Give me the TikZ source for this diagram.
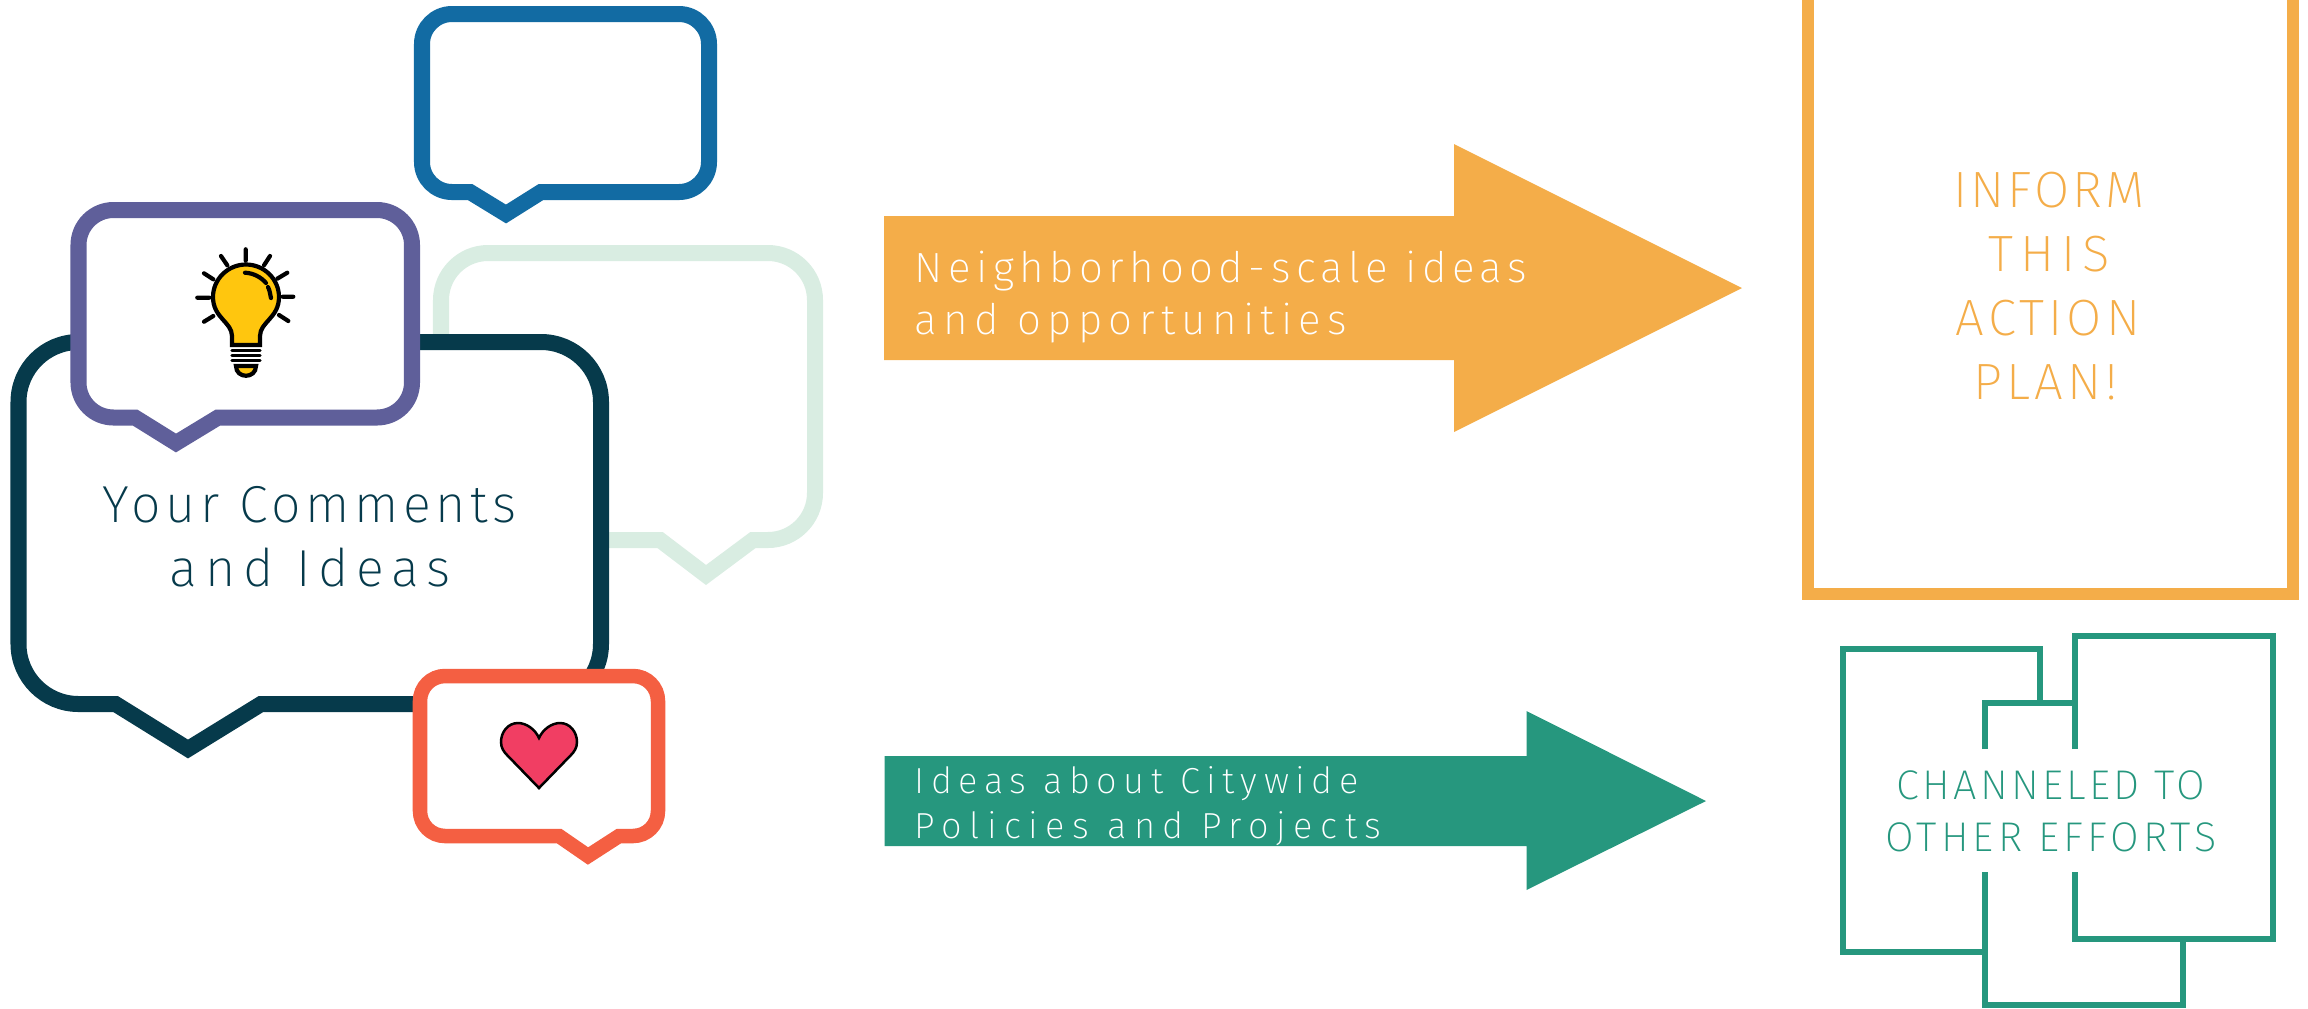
\documentclass[tikz,border=0pt]{standalone}
\usepackage{fontspec}
\usepackage{tikz}

\newfontfamily\thinfont{Fira Sans ExtraLight}

\definecolor{darkteal}{HTML}{063A4B}
\definecolor{purplebox}{HTML}{5F5F9A}
\definecolor{bluebox}{HTML}{126BA3}
\definecolor{mintbox}{HTML}{D9EDE2}
\definecolor{redbox}{HTML}{F45F42}
\definecolor{orangeflow}{HTML}{F4AD49}
\definecolor{greenflow}{HTML}{26977E}
\definecolor{bulbyellow}{HTML}{FFC60E}
\definecolor{heartpink}{HTML}{F13E63}

\newcommand{\monotext}[2]{\thinfont\addfontfeatures{LetterSpace=#2}\fontsize{#1}{#1}\selectfont}

\tikzset{
    bubble/.style={line width=0.16cm, fill=white},
    flowline/.style={line width=0.06cm, greenflow, line join=miter},
    wordline/.style={anchor=base, inner sep=0pt},
    flowword/.style={anchor=base west, inner sep=0pt, white},
    bulbline/.style={line width=0.042cm, black, line cap=round}
}

\begin{document}
\begin{tikzpicture}[x=0.01cm, y=-0.01cm]
    \useasboundingbox (0, 0) rectangle (2308, 1008);

    % speech bubbles, back to front
    \draw [bubble, draw=mintbox, rounded corners=0.47cm] (753, 540) -- (815, 540) -- (815, 253) -- (441, 253) -- (441, 540) [sharp corners] -- (660, 540) -- (706, 575) -- cycle;
    \draw [bubble, draw=bluebox, rounded corners=0.30cm] (541, 192) -- (709, 192) -- (709, 14) -- (422, 14) -- (422, 192) [sharp corners] -- (470, 192) -- (506, 214) -- cycle;
    \draw [bubble, draw=darkteal, rounded corners=0.60cm] (261, 704) -- (601, 704) -- (601, 342) -- (18.5, 342) -- (18.5, 704) [sharp corners] -- (115.5, 704) -- (188, 749) -- cycle;
    \draw [bubble, draw=purplebox, rounded corners=0.35cm] (218, 417.5) -- (412, 417.5) -- (412, 210) -- (78.5, 210) -- (78.5, 417.5) [sharp corners] -- (135, 417.5) -- (176, 443) -- cycle;
    \draw [bubble, draw=redbox, line width=0.145cm, rounded corners=0.25cm] (619, 836) -- (658, 836) -- (658, 676) -- (420, 676) -- (420, 836) [sharp corners] -- (559, 836) -- (588, 856) -- cycle;

    % bulb
    \draw [bulbline, fill=bulbyellow] (232, 345) -- (232, 336) .. controls (232, 322) and (213, 318) .. (213, 297) .. controls (213, 279) and (228, 264.5) .. (246, 264.5) .. controls (264, 264.5) and (279, 279) .. (279, 297) .. controls (279, 318) and (260, 322) .. (260, 336) -- (260, 345) -- cycle;
    \draw [bulbline] (245.7, 249.3) -- (245.7, 260.7) (270, 256) -- (264, 265.3) (287.3, 272.7) -- (277.3, 278.7) (293.3, 296.7) -- (282.7, 296.7) (288.3, 321) -- (279, 315);
    \draw [bulbline] (204, 321.7) -- (213.3, 316) (197.3, 297.7) -- (209.3, 297.7) (204, 273.3) -- (213.3, 279.3) (221, 256) -- (227.3, 265.3);
    \draw [bulbline] (245, 272.7) .. controls (253, 273) and (261, 277) .. (266, 283) (268, 287) .. controls (270, 291) and (270, 294) .. (271, 298);
    \draw [bulbline, line width=0.032cm] (232, 345) -- (260, 345) (232, 350.5) -- (260, 350.5) (232, 355.5) -- (260, 355.5) (232, 360.5) -- (260, 360.5);
    \draw [bulbline, fill=bulbyellow] (236, 366) .. controls (236, 379) and (256, 379) .. (256, 366) -- cycle;

    % heart
    \draw [line width=0.025cm, fill=heartpink] (539, 738) .. controls (535, 729) and (526, 723) .. (518, 723) .. controls (508, 723) and (501, 732) .. (501, 742) .. controls (501, 748) and (504, 752) .. (507, 755) -- (539, 788) -- (571, 755) .. controls (574, 752) and (577, 748) .. (577, 742) .. controls (577, 732) and (570, 723) .. (560, 723) .. controls (552, 723) and (543, 729) .. (539, 738) -- cycle;

    \draw (310, 522) node (yourcomments) [wordline, darkteal, font=\monotext{14.8}{9}] {Your Comments};
    \draw (310, 586) node (andideas) [wordline, darkteal, font=\monotext{14.8}{15}] {and Ideas};

    % big arrows
    \fill [orangeflow] (884, 216) -- (1454, 216) -- (1454, 144) -- (1742, 288) -- (1454, 432) -- (1454, 360) -- (884, 360) -- cycle;
    \draw (914, 282) node (neighborhood) [flowword, font=\monotext{12}{13}] {Neighborhood-scale ideas};
    \draw (914, 334) node (opportunities) [flowword, font=\monotext{12}{15}] {and opportunities};

    \fill [greenflow] (884.5, 756) -- (1526.5, 756) -- (1526.5, 711) -- (1706, 801) -- (1526.5, 890) -- (1526.5, 846) -- (884.5, 846) -- cycle;
    \draw (914, 793) node (citywide) [flowword, font=\monotext{10.3}{18}] {Ideas about Citywide};
    \draw (914, 838) node (policies) [flowword, font=\monotext{10.3}{20.7}] {Policies and Projects};

    % action plan frame, open at the top edge
    \draw [orangeflow, line width=0.12cm] (1807.5, 0) -- (1807.5, 593.5) -- (2293, 593.5) -- (2293, 0);
    \draw (2049, 207) node (inform) [wordline, orangeflow, font=\monotext{14.5}{6}] {INFORM};
    \draw (2049, 271) node (this) [wordline, orangeflow, font=\monotext{14.5}{14}] {THIS};
    \draw (2048, 335) node (action) [wordline, orangeflow, font=\monotext{14.5}{8}] {ACTION};
    \draw (2046, 399) node (plan) [wordline, orangeflow, font=\monotext{14.5}{8}] {PLAN!};

    % other efforts frames
    \draw [flowline] (2040, 703) -- (2040, 649) -- (1843, 649) -- (1843, 952) -- (1985, 952);
    \draw [flowline] (1985, 749) -- (1985, 703) -- (2075, 703);
    \draw [flowline] (2075, 749) -- (2075, 636) -- (2272.6, 636) -- (2272.6, 939) -- (2075, 939) -- (2075, 872);
    \draw [flowline] (1985, 872) -- (1985, 1005) -- (2183, 1005) -- (2183, 939);
    \draw (2051, 799) node (channeled) [wordline, greenflow, font=\monotext{11.8}{8}] {CHANNELED TO};
    \draw (2051, 851) node (othereffort) [wordline, greenflow, font=\monotext{11.8}{10}] {OTHER EFFORTS};
\end{tikzpicture}
\end{document}
